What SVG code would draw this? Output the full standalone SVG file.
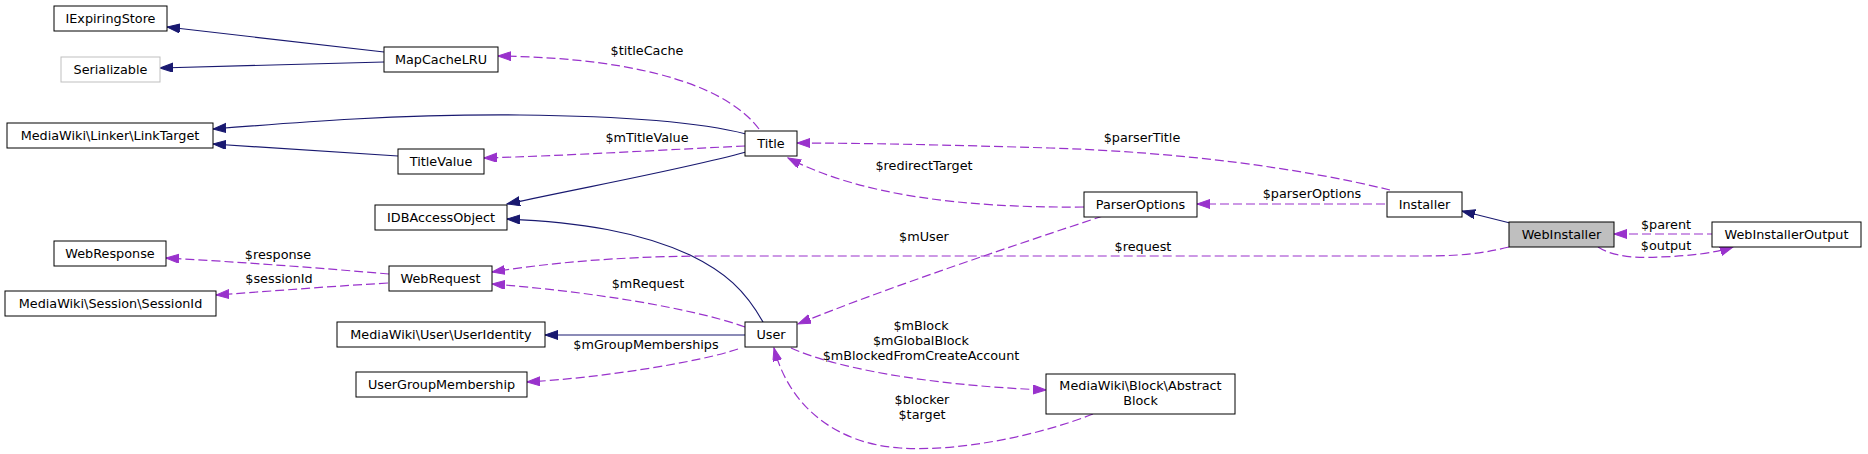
<svg xmlns="http://www.w3.org/2000/svg" width="1868" height="454" viewBox="0 0 1868 454">
<style>
text{font-family:"DejaVu Sans","Liberation Sans",sans-serif;font-size:12.8px;fill:#000}
.n text{text-anchor:middle}
.n rect{fill:#fff;stroke:#000;stroke-width:1}
.n rect.grey{stroke:#bfbfbf}
.n rect.cur{fill:#bfbfbf}
.e path{fill:none;stroke-width:1.2}
.inh{stroke:#191970}
.use{stroke:#9932cc;stroke-dasharray:9,4}
.lbl{text-anchor:middle}
</style>
<defs>
<marker id="aInh" markerUnits="userSpaceOnUse" markerWidth="14" markerHeight="10" refX="13" refY="4.5" orient="auto">
<path d="M0,0 L13,4.5 L0,9 z" fill="#191970" stroke="#191970" stroke-width="1"/>
</marker>
<marker id="aUse" markerUnits="userSpaceOnUse" markerWidth="14" markerHeight="10" refX="13" refY="4.5" orient="auto">
<path d="M0,0 L13,4.5 L0,9 z" fill="#9932cc" stroke="#9932cc" stroke-width="1"/>
</marker>
</defs>
<rect width="1868" height="454" fill="#fff"/>
<g id="connectors" class="e">
<path class="inh" marker-end="url(#aInh)" d="M384,52 L167,27"/>
<path class="inh" marker-end="url(#aInh)" d="M384,62 L160,68"/>
<path class="inh" marker-end="url(#aInh)" d="M746,134 C700,122 620,116 520,115 C400,114 300,122 213,129"/>
<path class="inh" marker-end="url(#aInh)" d="M398,156 L213,144"/>
<path class="inh" marker-end="url(#aInh)" d="M746,152 C680,170 590,186 507,204"/>
<path class="inh" marker-end="url(#aInh)" d="M763,322 C745,290 725,272 690,255 C640,232 580,222 507,219"/>
<path class="inh" marker-end="url(#aInh)" d="M745,335 L545,335"/>
<path class="inh" marker-end="url(#aInh)" d="M1510,223 L1462,211"/>
<path class="use" marker-end="url(#aUse)" d="M759,129 C730,90 650,58 498,56"/>
<path class="use" marker-end="url(#aUse)" d="M745,146 C680,149 560,156 484,158"/>
<path class="use" marker-end="url(#aUse)" d="M1390,190 C1300,168 1180,152 1050,148 C950,145 860,143 797,143"/>
<path class="use" marker-end="url(#aUse)" d="M1084,207 C960,208 860,195 788,158"/>
<path class="use" marker-end="url(#aUse)" d="M1385,204 L1197,204"/>
<path class="use" marker-end="url(#aUse)" d="M1103,216 C1030,240 880,290 798,324"/>
<path class="use" marker-end="url(#aUse)" d="M1509,247 C1480,254 1460,256 1420,256 L700,256 C610,257 550,263 492,272"/>
<path class="use" marker-end="url(#aUse)" d="M745,327 C710,314 620,294 492,284"/>
<path class="use" marker-end="url(#aUse)" d="M389,274 C320,268 240,262 166,258"/>
<path class="use" marker-end="url(#aUse)" d="M388,283 C320,287 260,292 216,295"/>
<path class="use" marker-end="url(#aUse)" d="M738,349 C700,362 600,378 527,382"/>
<path class="use" marker-end="url(#aUse)" d="M791,348 C830,366 920,385 1046,390"/>
<path class="use" marker-end="url(#aUse)" d="M1093,414 C1040,435 960,452 900,448 C840,444 790,410 774,348"/>
<path class="use" marker-end="url(#aUse)" d="M1716,234 L1614,234"/>
<path class="use" marker-end="url(#aUse)" d="M1598,247 C1615,258 1640,258 1660,257 C1690,256 1715,253 1733,247"/>
<text class="lbl" x="647" y="55">$titleCache</text>
<text class="lbl" x="647" y="142">$mTitleValue</text>
<text class="lbl" x="1142" y="142">$parserTitle</text>
<text class="lbl" x="924" y="170">$redirectTarget</text>
<text class="lbl" x="1312" y="198">$parserOptions</text>
<text class="lbl" x="924" y="241">$mUser</text>
<text class="lbl" x="1143" y="251">$request</text>
<text class="lbl" x="648" y="288">$mRequest</text>
<text class="lbl" x="278" y="259">$response</text>
<text class="lbl" x="279" y="283">$sessionId</text>
<text class="lbl" x="646" y="349">$mGroupMemberships</text>
<text class="lbl" x="921" y="330">$mBlock</text>
<text class="lbl" x="921" y="345">$mGlobalBlock</text>
<text class="lbl" x="921" y="360">$mBlockedFromCreateAccount</text>
<text class="lbl" x="922" y="404">$blocker</text>
<text class="lbl" x="922" y="419">$target</text>
<text class="lbl" x="1666" y="229">$parent</text>
<text class="lbl" x="1666" y="250">$output</text>
</g>
<g id="IExpiringStore" class="n"><rect x="54" y="6" width="113" height="25"/><text x="110.5" y="23">IExpiringStore</text></g>
<g id="Serializable" class="n"><rect class="grey" x="61" y="57" width="99" height="25"/><text x="110.5" y="74">Serializable</text></g>
<g id="MapCacheLRU" class="n"><rect x="384" y="47" width="114" height="25"/><text x="441" y="64">MapCacheLRU</text></g>
<g id="LinkTarget" class="n"><rect x="7" y="123" width="206" height="25"/><text x="110" y="140">MediaWiki\Linker\LinkTarget</text></g>
<g id="TitleValue" class="n"><rect x="398" y="149" width="86" height="25"/><text x="441" y="166">TitleValue</text></g>
<g id="Title" class="n"><rect x="745" y="131" width="52" height="25"/><text x="771" y="148">Title</text></g>
<g id="IDBAccessObject" class="n"><rect x="375" y="205" width="132" height="25"/><text x="441" y="222">IDBAccessObject</text></g>
<g id="WebResponse" class="n"><rect x="54" y="241" width="112" height="25"/><text x="110" y="258">WebResponse</text></g>
<g id="WebRequest" class="n"><rect x="389" y="266" width="103" height="25"/><text x="440.5" y="283">WebRequest</text></g>
<g id="SessionId" class="n"><rect x="5" y="291" width="211" height="25"/><text x="110.5" y="308">MediaWiki\Session\SessionId</text></g>
<g id="UserIdentity" class="n"><rect x="337" y="322" width="208" height="25"/><text x="441" y="339">MediaWiki\User\UserIdentity</text></g>
<g id="UserGroupMembership" class="n"><rect x="356" y="372" width="171" height="25"/><text x="441.5" y="389">UserGroupMembership</text></g>
<g id="User" class="n"><rect x="745" y="322" width="52" height="25"/><text x="771" y="339">User</text></g>
<g id="AbstractBlock" class="n"><rect x="1046" y="374" width="189" height="40"/><text x="1140.5" y="390">MediaWiki\Block\Abstract</text><text x="1140.5" y="404.5">Block</text></g>
<g id="ParserOptions" class="n"><rect x="1084" y="192" width="113" height="25"/><text x="1140.5" y="209">ParserOptions</text></g>
<g id="Installer" class="n"><rect x="1387" y="192" width="75" height="25"/><text x="1424.5" y="209">Installer</text></g>
<g id="WebInstaller" class="n"><rect class="cur" x="1509" y="222" width="105" height="25"/><text x="1561.5" y="239">WebInstaller</text></g>
<g id="WebInstallerOutput" class="n"><rect x="1712" y="222" width="149" height="25"/><text x="1786.5" y="239">WebInstallerOutput</text></g>
</svg>
